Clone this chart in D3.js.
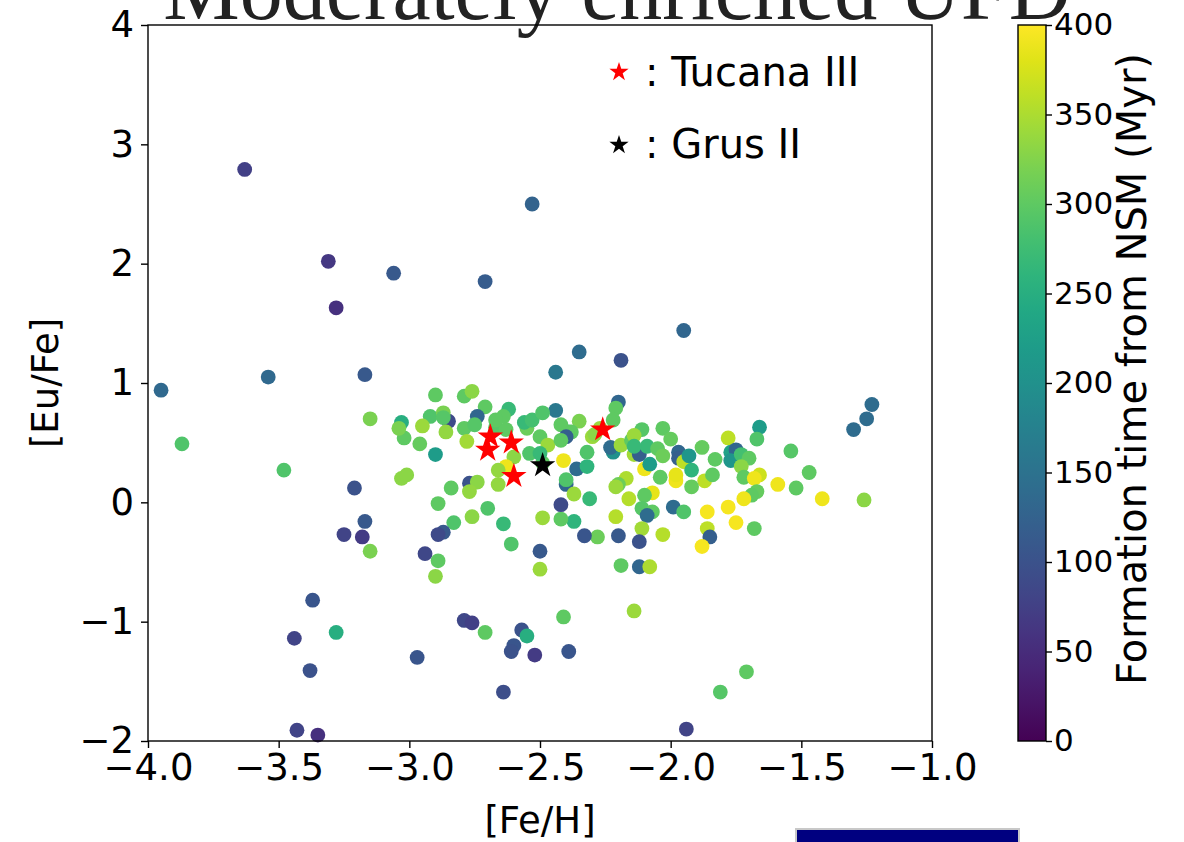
<!DOCTYPE html>
<html>
<head>
<meta charset="utf-8">
<script src="https://cdn.jsdelivr.net/npm/d3@7"></script>
<style>
  body { margin: 0; background: #fff; }
  svg { display: block; }
  text { font-family: "DejaVu Sans", sans-serif; fill: #000; }
</style>
</head>
<body>
<svg id="chart" width="1184" height="842"></svg>
<script>
// ---- data: [ [Fe/H], [Eu/Fe], formation time from NSM (Myr) ] ----
const outliers = [
  [-3.63, 2.79, 75], [-3.31, 2.02, 65], [-3.28, 1.63, 55], [-3.06, 1.92, 110],
  [-2.71, 1.85, 115], [-2.53, 2.50, 125], [-3.95, 0.94, 135], [-3.87, 0.49, 290],
  [-3.54, 1.05, 135], [-3.17, 1.07, 110], [-1.95, 1.44, 130], [-2.35, 1.26, 140],
  [-2.19, 1.19, 100], [-2.44, 1.09, 160], [-1.23, 0.82, 140], [-1.25, 0.70, 140],
  [-1.30, 0.61, 140]
];

const lowEu = [
  [-3.37, -0.82, 105], [-3.44, -1.14, 80], [-3.28, -1.09, 250], [-3.38, -1.41, 100],
  [-3.43, -1.91, 80], [-3.35, -1.95, 55], [-2.97, -1.30, 105], [-2.79, -0.99, 85],
  [-2.76, -1.01, 75], [-2.71, -1.09, 300], [-2.57, -1.07, 100], [-2.55, -1.12, 250],
  [-2.60, -1.20, 105], [-2.61, -1.25, 100], [-2.52, -1.28, 70], [-2.39, -1.25, 105],
  [-2.41, -0.96, 300], [-2.64, -1.59, 95], [-2.14, -0.91, 340], [-1.71, -1.42, 300],
  [-1.81, -1.59, 295], [-1.94, -1.90, 80]
];

const metalPoorCore = [
  [-3.48, 0.27, 290], [-3.15, 0.70, 320], [-3.21, 0.12, 100], [-3.17, -0.16, 110],
  [-3.25, -0.27, 80], [-3.18, -0.29, 70], [-3.15, -0.41, 320], [-3.03, 0.67, 250],
  [-3.02, 0.54, 300], [-3.04, 0.62, 320], [-2.96, 0.49, 305], [-2.90, 0.40, 220],
  [-3.03, 0.20, 330], [-3.01, 0.23, 330], [-2.90, 0.90, 300], [-2.79, 0.89, 300],
  [-2.76, 0.93, 330], [-2.71, 0.80, 300], [-2.74, 0.72, 130], [-2.62, 0.78, 270],
  [-2.85, 0.68, 90], [-2.92, 0.72, 290], [-2.87, 0.75, 320], [-2.87, 0.71, 295],
  [-2.95, 0.64, 340], [-2.86, 0.59, 335], [-2.79, 0.62, 300], [-2.75, 0.65, 295],
  [-2.78, 0.51, 345], [-2.64, 0.72, 300], [-2.67, 0.63, 295], [-2.63, 0.61, 300],
  [-2.55, 0.62, 310], [-2.56, 0.67, 270], [-2.53, 0.69, 280], [-2.54, 0.41, 290],
  [-2.60, 0.38, 330], [-2.63, 0.30, 390], [-2.66, 0.27, 335], [-2.66, 0.15, 335],
  [-2.77, 0.16, 100], [-2.74, 0.17, 330], [-2.77, 0.09, 335], [-2.84, 0.12, 300],
  [-2.89, -0.01, 300], [-2.70, -0.05, 290], [-2.76, -0.12, 330], [-2.83, -0.17, 290],
  [-2.64, -0.18, 270], [-2.87, -0.25, 110], [-2.89, -0.27, 90], [-2.61, -0.35, 290],
  [-2.94, -0.43, 85], [-2.89, -0.49, 300], [-2.50, -0.41, 110], [-2.49, -0.13, 340],
  [-2.90, -0.62, 330], [-2.50, -0.56, 340], [-2.67, 0.69, 300], [-2.50, 0.55, 300],
  [-2.49, 0.33, 300]
];

const metalRichCore = [
  [-2.20, 0.84, 130], [-2.21, 0.79, 300], [-2.44, 0.77, 160], [-1.66, 0.63, 220],
  [-1.67, 0.53, 290], [-1.54, 0.43, 295], [-1.47, 0.25, 300], [-1.52, 0.12, 300],
  [-1.59, 0.15, 390], [-1.42, 0.03, 390], [-1.26, 0.02, 330], [-1.78, 0.54, 360],
  [-1.88, 0.46, 305], [-1.83, 0.36, 300], [-1.77, 0.42, 230], [-1.75, 0.44, 130],
  [-1.77, 0.35, 210], [-1.73, 0.40, 280], [-1.70, 0.37, 300], [-1.73, 0.30, 330],
  [-1.72, 0.21, 300], [-1.66, 0.23, 370], [-1.68, 0.20, 390], [-1.67, 0.09, 305],
  [-1.69, 0.06, 300], [-1.72, 0.03, 390], [-1.78, -0.04, 395], [-1.75, -0.17, 395],
  [-1.68, -0.22, 300], [-1.86, -0.08, 395], [-1.86, -0.22, 360], [-1.85, -0.29, 120],
  [-1.88, -0.37, 395], [-1.97, 0.42, 130], [-1.97, 0.37, 120], [-1.95, 0.34, 360],
  [-1.93, 0.39, 210], [-1.92, 0.27, 260], [-1.87, 0.18, 360], [-1.84, 0.23, 300],
  [-1.92, 0.13, 305], [-1.98, 0.18, 390], [-1.98, 0.23, 385], [-1.99, -0.04, 140],
  [-1.95, -0.08, 290], [-2.03, -0.27, 355], [-2.04, 0.21, 300], [-2.07, 0.08, 385],
  [-2.10, 0.28, 390], [-2.10, 0.06, 300], [-2.11, -0.05, 295], [-2.07, -0.08, 300],
  [-2.09, -0.11, 140], [-2.16, 0.03, 355], [-2.17, 0.20, 350], [-2.20, 0.15, 310],
  [-2.21, 0.13, 340], [-2.21, -0.12, 355], [-2.11, -0.22, 345], [-2.12, -0.33, 100],
  [-2.20, -0.28, 110], [-2.28, -0.29, 310], [-2.33, -0.28, 105], [-2.19, -0.53, 300],
  [-2.12, -0.54, 130], [-2.08, -0.54, 350], [-2.37, -0.16, 260], [-2.42, -0.14, 300],
  [-2.42, -0.02, 90], [-2.40, 0.15, 130], [-2.40, 0.19, 290], [-2.37, 0.07, 340],
  [-2.31, 0.03, 270], [-2.36, 0.28, 140], [-2.32, 0.30, 260], [-2.32, 0.42, 290],
  [-2.41, 0.35, 390], [-2.22, 0.42, 200], [-2.23, 0.46, 140], [-2.19, 0.48, 340],
  [-2.15, 0.52, 300], [-2.14, 0.40, 345], [-2.12, 0.40, 120], [-2.11, 0.61, 295],
  [-2.09, 0.47, 270], [-2.08, 0.32, 220], [-2.05, 0.45, 300], [-2.03, 0.62, 300],
  [-2.00, 0.53, 305], [-2.03, 0.39, 310], [-2.30, 0.55, 340], [-2.27, 0.62, 340],
  [-2.22, 0.69, 300], [-2.35, 0.68, 320], [-2.39, 0.59, 270], [-2.49, 0.75, 290],
  [-2.42, 0.65, 300], [-2.38, 0.59, 300], [-2.40, 0.55, 120], [-2.47, 0.48, 340],
  [-2.42, 0.52, 300], [-2.50, 0.41, 270], [-2.29, 0.57, 330], [-2.14, 0.56, 340],
  [-2.14, 0.47, 270]
];

// observed stars
const tucanaIII = [[-2.69, 0.55], [-2.70, 0.44], [-2.61, 0.50], [-2.60, 0.22], [-2.26, 0.61]];
const grusII = [[-2.49, 0.31]];

const xTicks = [-4.0, -3.5, -3.0, -2.5, -2.0, -1.5, -1.0];
const yTicks = [-2, -1, 0, 1, 2, 3, 4];
const cTicks = [0, 50, 100, 150, 200, 250, 300, 350, 400];

// ---- layout ----
const plot = { left: 148, right: 932, top: 25, bottom: 741 };
const cbar = { left: 1018, right: 1046 };
const FS = 37;

const svg = d3.select("#chart");

const x = d3.scaleLinear().domain([-4, -1]).range([plot.left, plot.right]);
const y = d3.scaleLinear().domain([-2, 4]).range([plot.bottom, plot.top]);
const tScale = d3.scaleLinear().domain([0, 400]).range([plot.bottom, plot.top]);
const color = t => d3.interpolateViridis(t / 400);

// title (runs off the top of the canvas)
svg.append("text")
  .attr("x", 617).attr("y", 19)
  .attr("text-anchor", "middle")
  .style("font-family", "'Liberation Serif', 'Times New Roman', serif")
  .style("font-size", "86px")
  .style("fill", "#222")
  .text("Moderately enriched UFD");

// scatter points
const points = [...outliers, ...lowEu, ...metalPoorCore, ...metalRichCore];
svg.append("g")
  .selectAll("circle")
  .data(points)
  .join("circle")
  .attr("cx", d => x(d[0]))
  .attr("cy", d => y(d[1]))
  .attr("r", 7.4)
  .attr("fill", d => color(d[2]));

// stars
const star = d3.symbol().type(d3.symbolStar).size(200);
svg.append("g").selectAll("path")
  .data(tucanaIII).join("path")
  .attr("d", star())
  .attr("transform", d => `translate(${x(d[0])},${y(d[1])})`)
  .attr("fill", "#ff0000");
svg.append("g").selectAll("path")
  .data(grusII).join("path")
  .attr("d", star())
  .attr("transform", d => `translate(${x(d[0])},${y(d[1])})`)
  .attr("fill", "#000");

// frame
svg.append("rect")
  .attr("x", plot.left).attr("y", plot.top)
  .attr("width", plot.right - plot.left).attr("height", plot.bottom - plot.top)
  .attr("fill", "none").attr("stroke", "#000").attr("stroke-width", 1.4);

// axes
const fmt = d3.format(".1f");
const gx = svg.append("g")
  .attr("transform", `translate(0,${plot.bottom})`)
  .call(d3.axisBottom(x).tickValues(xTicks).tickFormat(fmt).tickSize(7).tickPadding(6));
const gy = svg.append("g")
  .attr("transform", `translate(${plot.left},0)`)
  .call(d3.axisLeft(y).tickValues(yTicks).tickFormat(d3.format("d")).tickSize(7).tickPadding(7));
[gx, gy].forEach(g => {
  g.select(".domain").remove();
  g.selectAll(".tick line").attr("stroke", "#000").attr("stroke-width", 1.4);
  g.selectAll(".tick text").style("font-size", FS + "px").style("font-family", "'DejaVu Sans', sans-serif").attr("fill", "#000");
});

svg.append("text")
  .attr("x", (plot.left + plot.right) / 2).attr("y", 833)
  .attr("text-anchor", "middle")
  .style("font-size", FS + "px")
  .text("[Fe/H]");
svg.append("text")
  .attr("transform", `translate(58,${(plot.top + plot.bottom) / 2}) rotate(-90)`)
  .attr("text-anchor", "middle")
  .style("font-size", FS + "px")
  .text("[Eu/Fe]");

// legend
const legend = [
  { label: ": Tucana III", fill: "#ff0000", cy: 72, ty: 86 },
  { label: ": Grus II", fill: "#000", cy: 145, ty: 158 }
];
legend.forEach(l => {
  svg.append("path")
    .attr("d", d3.symbol().type(d3.symbolStar).size(115)())
    .attr("transform", `translate(619,${l.cy})`)
    .attr("fill", l.fill);
  svg.append("text")
    .attr("x", 645).attr("y", l.ty)
    .style("font-size", "40px")
    .text(l.label);
});

// colour bar
const defs = svg.append("defs");
const grad = defs.append("linearGradient")
  .attr("id", "viridisGrad")
  .attr("x1", 0).attr("y1", 1).attr("x2", 0).attr("y2", 0);
d3.range(0, 1.0001, 0.05).forEach(s => {
  grad.append("stop").attr("offset", s).attr("stop-color", d3.interpolateViridis(s));
});
svg.append("rect")
  .attr("x", cbar.left).attr("y", plot.top)
  .attr("width", cbar.right - cbar.left).attr("height", plot.bottom - plot.top)
  .attr("fill", "url(#viridisGrad)")
  .attr("stroke", "#000").attr("stroke-width", 1.4);
const gc = svg.append("g")
  .attr("transform", `translate(${cbar.right},0)`)
  .call(d3.axisRight(tScale).tickValues(cTicks).tickFormat(d3.format("d")).tickSize(6).tickPadding(2));
gc.select(".domain").remove();
gc.selectAll(".tick line").attr("stroke", "#000").attr("stroke-width", 1.4);
gc.selectAll(".tick text").style("font-size", "31px").attr("fill", "#000");

svg.append("text")
  .attr("transform", `translate(1146,${(plot.top + plot.bottom) / 2 - 14}) rotate(-90)`)
  .attr("text-anchor", "middle")
  .style("font-size", "40px")
  .text("Formation time from NSM (Myr)");

// navy panel at the bottom edge
svg.append("rect")
  .attr("x", 796).attr("y", 829)
  .attr("width", 223).attr("height", 20)
  .attr("fill", "#000080")
  .attr("stroke", "#c8c8c8").attr("stroke-width", 2);
</script>
</body>
</html>
